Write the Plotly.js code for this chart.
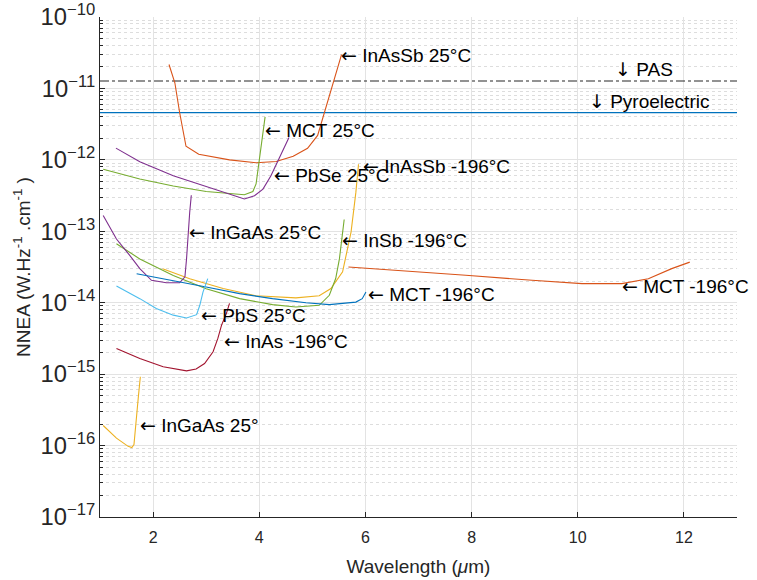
<!DOCTYPE html>
<html>
<head>
<meta charset="utf-8">
<script src="https://cdn.plot.ly/plotly-3.0.1.min.js"></script>
<style>
  html, body { margin: 0; padding: 0; background: #ffffff; }
  #chart { width: 757px; height: 580px; }
</style>
</head>
<body>
<div id="chart"></div>
<script>
// Noise-equivalent absorption (NNEA) of IR detectors versus wavelength

const inAsSb25_x = [2.30, 2.41, 2.50, 2.62, 2.86, 3.44, 3.94, 4.32, 4.64, 4.91, 5.10, 5.23, 5.41, 5.55];
const inAsSb25_y = [2.16e-11, 1.2e-11, 4.6e-12, 1.55e-12, 1.2e-12, 1.0e-12, 9.1e-13, 9.5e-13, 1.12e-12, 1.45e-12, 2.2e-12, 4.6e-12, 1.33e-11, 2.98e-11];

const mct25_x = [1.06, 1.75, 2.38, 3.0, 3.72, 3.88, 3.94, 4.0, 4.06, 4.11];
const mct25_y = [7.4e-13, 5.4e-13, 4.3e-13, 3.6e-13, 3.25e-13, 3.6e-13, 4.6e-13, 1.02e-12, 2.2e-12, 4.0e-12];

const pbSe25_x = [1.30, 1.75, 2.38, 3.0, 3.72, 3.91, 4.07, 4.22, 4.38, 4.56];
const pbSe25_y = [1.46e-12, 9.4e-13, 6.0e-13, 4.2e-13, 2.83e-13, 3.15e-13, 3.9e-13, 6.0e-13, 1.08e-12, 2.05e-12];

const inAsSb196_x = [2.18, 2.69, 3.32, 3.94, 4.69, 5.13, 5.35, 5.57, 5.73, 5.82, 5.87];
const inAsSb196_y = [2.99e-14, 2.17e-14, 1.58e-14, 1.25e-14, 1.17e-14, 1.25e-14, 1.58e-14, 2.7e-14, 9.8e-14, 3.5e-13, 8.7e-13];

const inSb196_x = [1.31, 1.75, 2.38, 3.0, 3.63, 4.25, 4.69, 5.13, 5.32, 5.44, 5.51, 5.56, 5.60];
const inSb196_y = [6.7e-14, 4.1e-14, 2.4e-14, 1.57e-14, 1.14e-14, 9.4e-15, 8.7e-15, 9.2e-15, 1.27e-14, 2.18e-14, 4.1e-14, 7.8e-14, 1.46e-13];

const inGaAs25_x = [1.06, 1.31, 1.56, 1.75, 1.97, 2.25, 2.50, 2.60, 2.63, 2.66, 2.69, 2.72];
const inGaAs25_y = [1.66e-13, 7.8e-14, 4.6e-14, 3.0e-14, 2.06e-14, 1.9e-14, 1.9e-14, 2.3e-14, 4.1e-14, 9.8e-14, 1.85e-13, 3.2e-13];

const mct196short_x = [1.69, 2.38, 3.0, 3.63, 4.25, 4.88, 5.32, 5.82, 5.94, 6.01];
const mct196short_y = [2.55e-14, 2.06e-14, 1.66e-14, 1.34e-14, 1.14e-14, 1.0e-14, 9.4e-15, 1.02e-14, 1.14e-14, 1.41e-14];

const mct196long_x = [5.68, 6.63, 7.89, 9.14, 10.08, 10.83, 11.33, 11.77, 12.11];
const mct196long_y = [3.16e-14, 2.84e-14, 2.42e-14, 2.06e-14, 1.85e-14, 1.85e-14, 2.17e-14, 3.0e-14, 3.7e-14];

const pbS25_x = [1.31, 1.75, 2.06, 2.38, 2.63, 2.82, 2.88, 2.94, 3.03];
const pbS25_y = [1.71e-14, 1.14e-14, 8.3e-15, 6.7e-15, 6.1e-15, 6.8e-15, 9.2e-15, 1.41e-14, 2.17e-14];

const inAs196_x = [1.31, 1.75, 2.19, 2.63, 2.81, 2.97, 3.13, 3.22, 3.29, 3.38, 3.44];
const inAs196_y = [2.29e-15, 1.66e-15, 1.27e-15, 1.11e-15, 1.18e-15, 1.41e-15, 2.06e-15, 3.16e-15, 4.85e-15, 7.05e-15, 9.8e-15];

const inGaAsExt_x = [1.06, 1.31, 1.53, 1.60, 1.64, 1.68, 1.72, 1.76];
const inGaAsExt_y = [1.91e-16, 1.27e-16, 9.75e-17, 9.4e-17, 1.03e-16, 1.96e-16, 4.6e-16, 9.2e-16];

// Reference levels for thermal detectors
const refRange_x = [1, 13];
const pas_y = 1.27e-11;
const pyro_y = 4.58e-12;

// Curve labels (data position of the arrow tip)
const labelName = [
  'InAsSb 25°C', 'MCT 25°C', 'PbSe 25°C', 'InAsSb -196°C', 'InSb -196°C',
  'InGaAs 25°C', 'MCT -196°C', 'MCT -196°C', 'PbS 25°C', 'InAs -196°C', 'InGaAs 25°'
];
const labelX = [5.55, 4.13, 4.29, 5.98, 5.58, 2.69, 6.07, 10.86, 2.93, 3.35, 1.78];
const labelY = [2.98e-11, 2.6e-12, 6.2e-13, 8.3e-13, 7.6e-14, 9.8e-14, 1.32e-14, 1.7e-14, 6.7e-15, 2.9e-15, 1.96e-16];

const refLabelName = ['PAS', 'Pyroelectric'];
const refLabelX = [10.72, 10.24];
const refLabelY = [pas_y, pyro_y];

const C = {
  blue: '#0072BD', orange: '#D95319', yellow: '#EDB120', purple: '#7E2F8E',
  green: '#77AC30', cyan: '#4DBEEE', red: '#A2142F'
};

function line(x, y, color, dash) {
  return { x: x, y: y, type: 'scatter', mode: 'lines',
           line: { color: color, width: 1.1, dash: dash || 'solid' }, hoverinfo: 'skip' };
}

const traces = [
  line(refRange_x, [pas_y, pas_y], '#262626', 'dashdot'),
  line(refRange_x, [pyro_y, pyro_y], C.blue),
  line(inAsSb25_x, inAsSb25_y, C.orange),
  line(mct25_x, mct25_y, C.green),
  line(pbSe25_x, pbSe25_y, C.purple),
  line(inAsSb196_x, inAsSb196_y, C.yellow),
  line(inSb196_x, inSb196_y, C.green),
  line(inGaAs25_x, inGaAs25_y, C.purple),
  line(mct196short_x, mct196short_y, C.blue),
  line(mct196long_x, mct196long_y, C.orange),
  line(pbS25_x, pbS25_y, C.cyan),
  line(inAs196_x, inAs196_y, C.red),
  line(inGaAsExt_x, inGaAsExt_y, C.yellow)
];

const SANS = 'Liberation Sans, Arial, sans-serif';
const ARROW = '<span style="font-family:DejaVu Sans">';
const textFont = { family: SANS, size: 19, color: '#000000' };

const annotations = labelName.map((t, i) => ({
  x: labelX[i], y: Math.log10(labelY[i]), xref: 'x', yref: 'y',
  text: ARROW + '←</span> ' + t, showarrow: false, xanchor: 'left', yanchor: 'middle',
  xshift: -3, font: textFont
})).concat(refLabelName.map((t, i) => ({
  x: refLabelX[i], y: Math.log10(refLabelY[i]), xref: 'x', yref: 'y',
  text: ARROW + '↓</span> ' + t, showarrow: false, xanchor: 'left', yanchor: 'bottom',
  xshift: -3, yshift: -1, font: textFont
})));

const layout = {
  width: 757, height: 580,
  margin: { l: 100, r: 20, t: 17, b: 63 },
  paper_bgcolor: '#ffffff', plot_bgcolor: '#ffffff',
  showlegend: false,
  font: { family: SANS, size: 16, color: '#262626' },
  xaxis: {
    range: [1, 13], tick0: 0, dtick: 2,
    showline: true, linecolor: '#262626', linewidth: 1, mirror: false,
    ticks: 'inside', ticklen: 5, tickcolor: '#262626',
    ticklabelstandoff: 6,
    showgrid: true, gridcolor: '#e3e3e3', gridwidth: 1, zeroline: false,
    tickfont: { family: SANS, size: 16, color: '#262626' },
    title: { text: 'Wavelength (<i>μ</i>m)', font: { family: SANS, size: 19, color: '#262626' }, standoff: 14 }
  },
  yaxis: {
    type: 'log', range: [-17, -10], dtick: 1,
    exponentformat: 'power', showexponent: 'all',
    showline: true, linecolor: '#262626', linewidth: 1, mirror: false,
    ticks: 'inside', ticklen: 5, tickcolor: '#262626',
    ticklabeloverflow: 'allow',
    showgrid: true, gridcolor: '#e3e3e3', gridwidth: 1, zeroline: false,
    tickfont: { family: SANS, size: 19, color: '#262626' },
    minor: { dtick: 'D1', ticks: 'inside', ticklen: 3, tickcolor: '#262626',
             showgrid: true, gridcolor: '#dddddd', griddash: 'dot', gridwidth: 1 },
    title: { text: 'NNEA (W.Hz<sup>-1</sup> .cm<sup>-1</sup> )', font: { family: SANS, size: 19, color: '#262626' }, standoff: 4 }
  },
  annotations: annotations
};

Plotly.newPlot('chart', traces, layout, { displayModeBar: false, staticPlot: true });
</script>
</body>
</html>
